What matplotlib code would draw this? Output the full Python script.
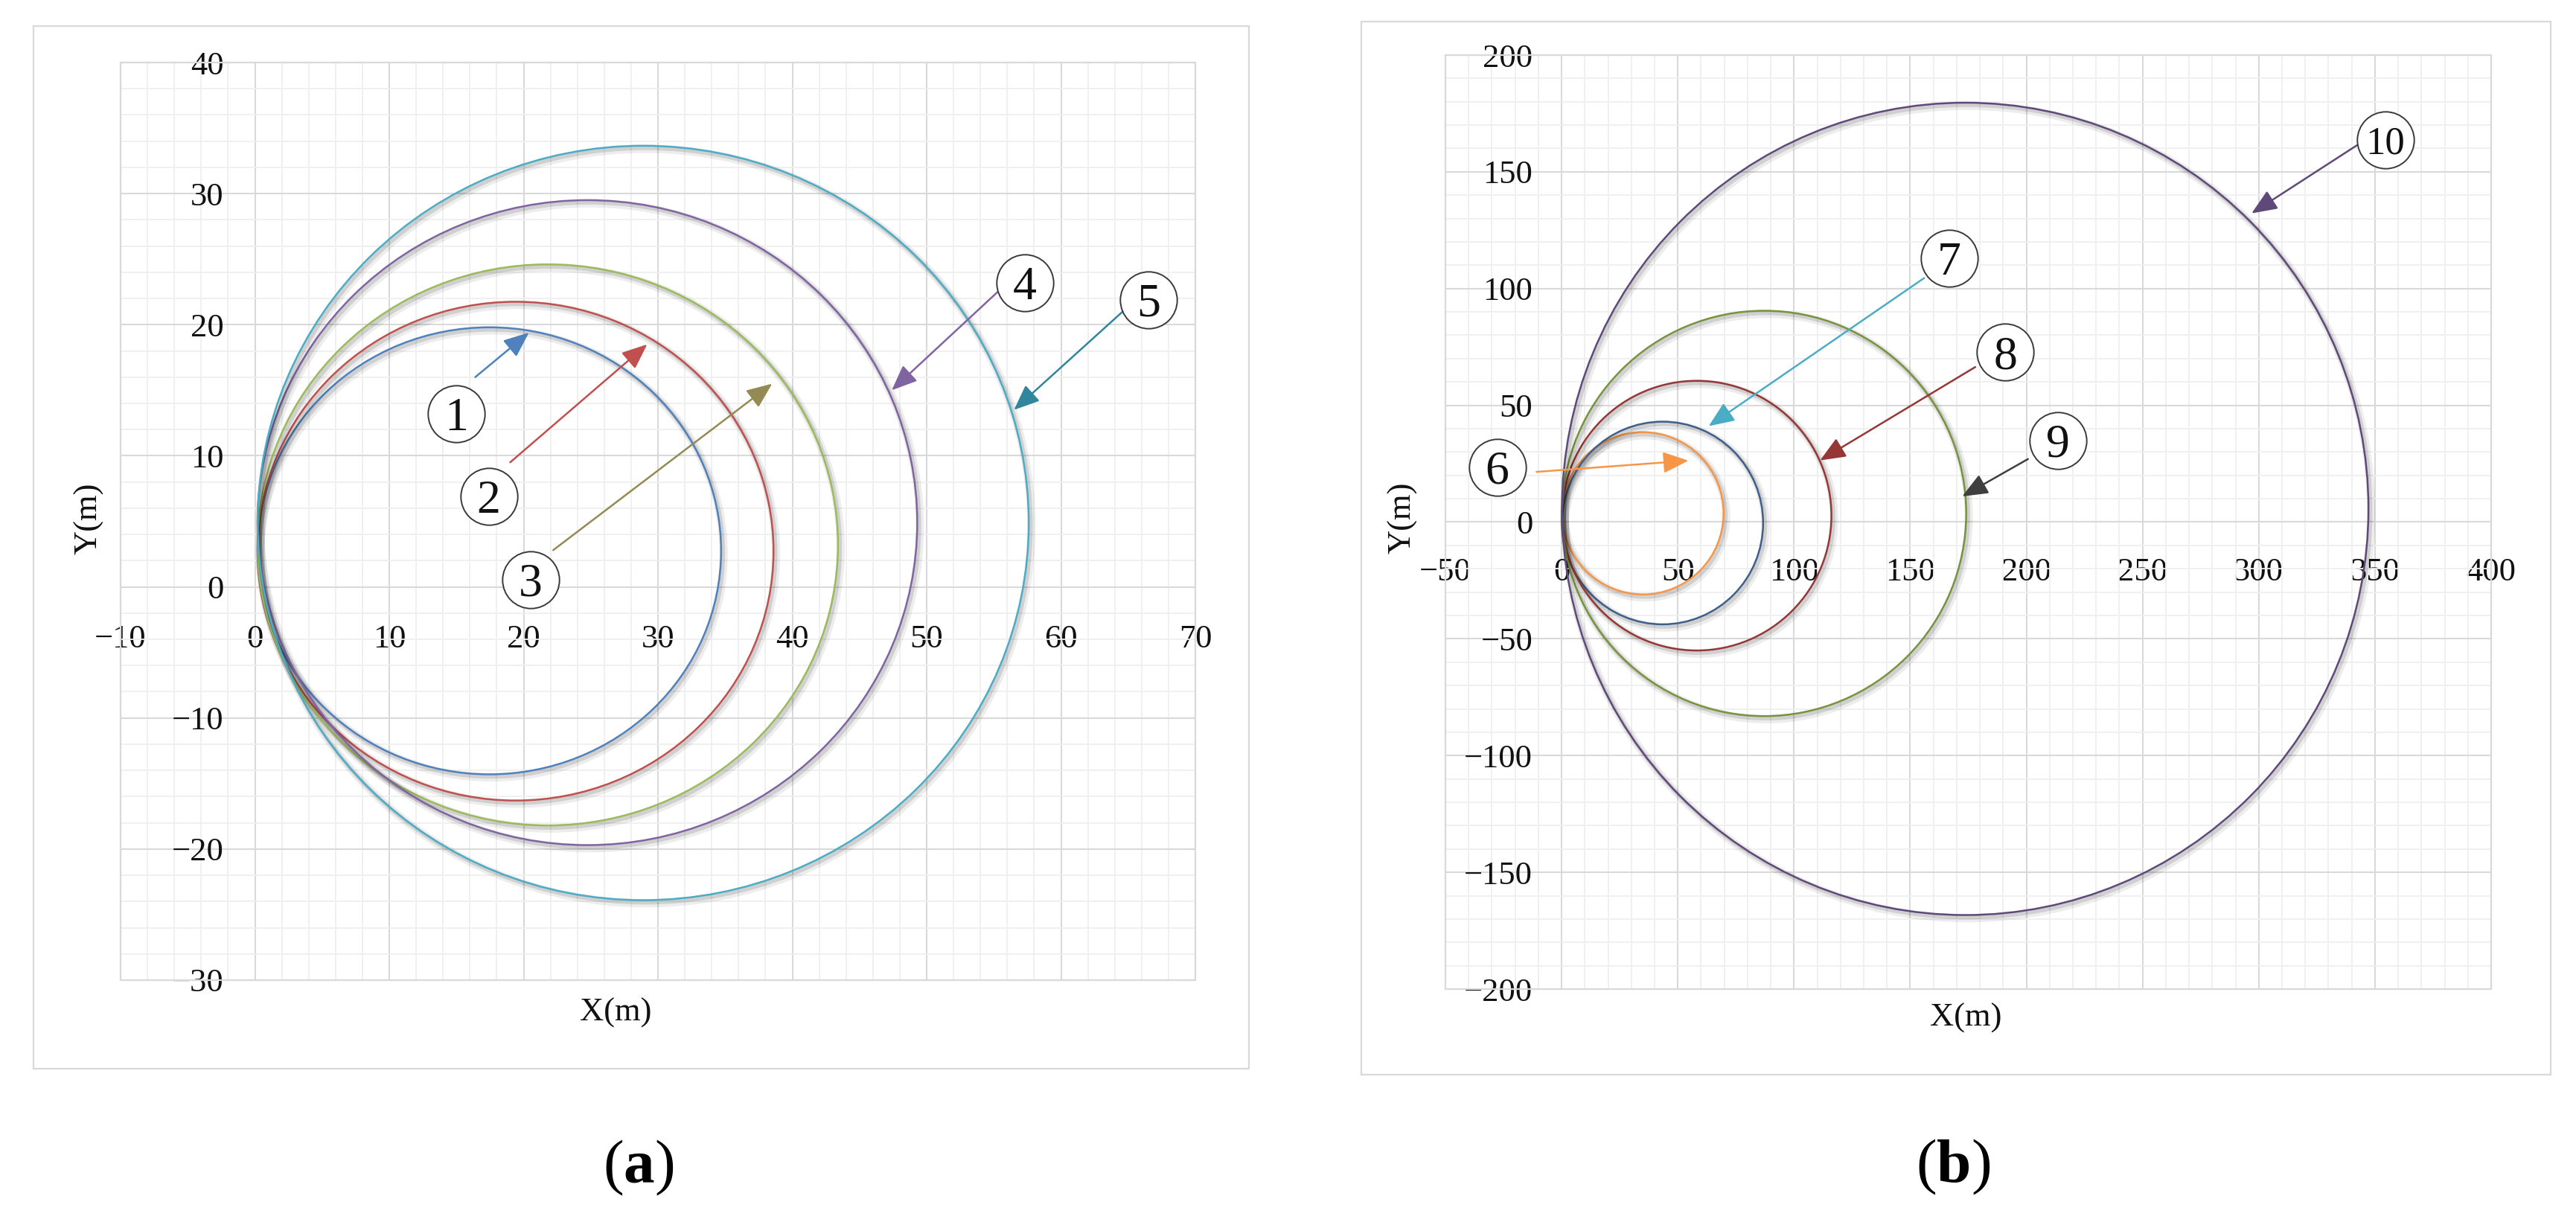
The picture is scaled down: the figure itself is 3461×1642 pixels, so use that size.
import matplotlib
matplotlib.use('Agg')
import matplotlib.pyplot as plt
from matplotlib.patches import Ellipse, Rectangle
from matplotlib.ticker import MultipleLocator
import matplotlib.patheffects as pe

plt.rcParams['font.family'] = ['Liberation Serif', 'DejaVu Serif']
plt.rcParams['mathtext.fontset'] = 'custom'
plt.rcParams['mathtext.rm'] = 'Liberation Serif'
plt.rcParams['mathtext.bf'] = 'Liberation Serif:bold'
plt.rcParams['axes.unicode_minus'] = True

# ---------------- Panel (a): turning trajectories, extents (m)
a_ids = ['1', '2', '3', '4', '5']
a_xmin = [0.2, 0.2, 0.2, 0.2, 0.2]
a_xmax = [34.7, 38.6, 43.4, 49.3, 57.6]
a_ymin = [-14.3, -16.3, -18.2, -19.7, -23.9]
a_ymax = [19.8, 21.75, 24.6, 29.5, 33.65]
a_colors = ['#4f81bd', '#c0504d', '#9bbb59', '#8064a2', '#4bacc6']
a_arrow_colors = ['#4f81bd', '#c0504d', '#948a54', '#8064a2', '#31859c']
a_label_x = [15.0, 17.4, 20.5, 57.3, 66.5]
a_label_y = [13.2, 6.9, 0.56, 23.2, 21.9]
a_arrow_x0 = [16.4, 19.0, 22.2, 55.6, 64.7]
a_arrow_y0 = [16.0, 9.5, 2.8, 22.8, 21.1]
a_arrow_x1 = [20.4, 29.2, 38.5, 47.4, 56.5]
a_arrow_y1 = [19.4, 18.5, 15.5, 15.0, 13.5]

# ---------------- Panel (b)
b_ids = ['6', '7', '8', '9', '10']
b_xmin = [0.2, 0.2, 0.2, 0.2, 0.2]
b_xmax = [69.7, 86.7, 116.1, 174.1, 347.2]
b_ymin = [-31.0, -43.8, -55.0, -83.1, -168.3]
b_ymax = [38.5, 43.0, 60.5, 90.5, 179.6]
b_colors = ['#f79646', '#3e5f8a', '#953735', '#77933c', '#5f497a']
b_arrow_colors = ['#f79646', '#4bacc6', '#953735', '#3f3f3f', '#5f497a']
b_label_x = [-27.7, 166.8, 190.9, 213.6, 354.5]
b_label_y = [23.5, 112.9, 72.8, 35.0, 163.8]
b_arrow_x0 = [-10.8, 156.0, 178.0, 200.7, 342.3]
b_arrow_y0 = [21.5, 104.5, 66.4, 27.0, 161.4]
b_arrow_x1 = [54.6, 63.3, 111.2, 172.4, 296.9]
b_arrow_y1 = [26.3, 41.1, 26.4, 11.0, 132.2]

W, H = 3461, 1642
fig = plt.figure(figsize=(W / 100, H / 100), dpi=100)

GRID_MAJ = '#d9d9d9'
GRID_MIN = '#efefef'
TXT = '#111111'


def fx(px):
    return px / W


def fy(py):
    return 1 - py / H


def setup(ax, xlim, ylim, major, minor, xpad, ypad):
    ax.set_xlim(*xlim)
    ax.set_ylim(*ylim)
    ax.xaxis.set_major_locator(MultipleLocator(major))
    ax.xaxis.set_minor_locator(MultipleLocator(minor))
    ax.yaxis.set_major_locator(MultipleLocator(major))
    ax.yaxis.set_minor_locator(MultipleLocator(minor))
    ax.grid(which='minor', color=GRID_MIN, lw=1.3, zorder=0)
    ax.grid(which='major', color=GRID_MAJ, lw=1.5, zorder=0.5)
    ax.set_axisbelow(True)
    ax.spines['top'].set_visible(False)
    ax.spines['right'].set_visible(False)
    ax.spines['left'].set_position(('data', 0))
    ax.spines['bottom'].set_position(('data', 0))
    ax.spines['left'].set_color('none')
    ax.spines['bottom'].set_color('none')
    ax.tick_params(which='both', length=0)
    ax.tick_params(axis='x', pad=xpad, labelsize=32, labelcolor=TXT)
    ax.tick_params(axis='y', pad=ypad, labelsize=32, labelcolor=TXT)
    ax.add_patch(Rectangle((0, 0), 1, 1, transform=ax.transAxes, fill=False,
                           ec=GRID_MAJ, lw=1.6, clip_on=False, zorder=0.6))


shadow = [pe.SimpleLineShadow(offset=(2.5, -3.0), shadow_color='k', alpha=0.07, linewidth=8),
          pe.SimpleLineShadow(offset=(1.8, -2.2), shadow_color='k', alpha=0.12, linewidth=4),
          pe.Normal()]


def draw_panel(ax, xmin, xmax, ymin, ymax, colors, ids, lx, ly, ax0, ay0, ax1, ay1, acol):
    for i in range(len(ids)):
        cx = (xmin[i] + xmax[i]) / 2
        cy = (ymin[i] + ymax[i]) / 2
        e = Ellipse((cx, cy), xmax[i] - xmin[i], ymax[i] - ymin[i], fill=False,
                    ec=colors[i], lw=1.8, zorder=2)
        e.set_path_effects(shadow)
        ax.add_patch(e)
    for i in range(len(ids)):
        ax.annotate('', xy=(ax1[i], ay1[i]), xytext=(ax0[i], ay0[i]),
                    arrowprops=dict(arrowstyle='-|>,head_length=0.6,head_width=0.25',
                                    color=acol[i], lw=1.8, mutation_scale=35,
                                    shrinkA=0, shrinkB=0), zorder=4)
        ax.plot([lx[i]], [ly[i]], marker='o', ms=55, mfc='white', mec='#3a3a3a',
                mew=1.4, zorder=5, clip_on=False)
        fs = 46 if len(ids[i]) == 1 else 38
        ax.text(lx[i], ly[i], ids[i], fontsize=fs, ha='center', va='center_baseline',
                color=TXT, zorder=6)


# chart outer boxes
fig.add_artist(Rectangle((fx(45), fy(1436)), (1678 - 45) / W, (1436 - 35) / H,
                         transform=fig.transFigure, fill=False, ec='#d9d9d9', lw=1.6))
fig.add_artist(Rectangle((fx(1829), fy(1444)), (3427 - 1829) / W, (1444 - 29) / H,
                         transform=fig.transFigure, fill=False, ec='#d9d9d9', lw=1.6))

# Panel (a)
axa = fig.add_axes([fx(162), fy(1317), (1606 - 162) / W, (1317 - 84) / H])
setup(axa, (-10, 70), (-30, 40), 10, 2, xpad=36, ypad=30)
draw_panel(axa, a_xmin, a_xmax, a_ymin, a_ymax, a_colors, a_ids, a_label_x, a_label_y,
           a_arrow_x0, a_arrow_y0, a_arrow_x1, a_arrow_y1, a_arrow_colors)

# Panel (b)
axb = fig.add_axes([fx(1942), fy(1329), (3347 - 1942) / W, (1329 - 74) / H])
setup(axb, (-50, 400), (-200, 200), 50, 10, xpad=34, ypad=28)
draw_panel(axb, b_xmin, b_xmax, b_ymin, b_ymax, b_colors, b_ids, b_label_x, b_label_y,
           b_arrow_x0, b_arrow_y0, b_arrow_x1, b_arrow_y1, b_arrow_colors)

# axis titles
fig.text(fx(827), fy(1361), 'X(m)', fontsize=32, ha='center', va='center', color=TXT)
fig.text(fx(2641), fy(1368), 'X(m)', fontsize=32, ha='center', va='center', color=TXT)
fig.text(fx(119), fy(697), 'Y(m)', fontsize=32, ha='center', va='center', rotation=90, color=TXT)
fig.text(fx(1884), fy(696), 'Y(m)', fontsize=32, ha='center', va='center', rotation=90, color=TXT)

# panel captions
fig.text(fx(858), fy(1569), r'($\mathbf{a}$)', fontsize=60, ha='center', va='center', color='black')
fig.text(fx(2624), fy(1568), r'($\mathbf{b}$)', fontsize=60, ha='center', va='center', color='black')

fig.savefig('out.png', dpi=100, facecolor='white')
